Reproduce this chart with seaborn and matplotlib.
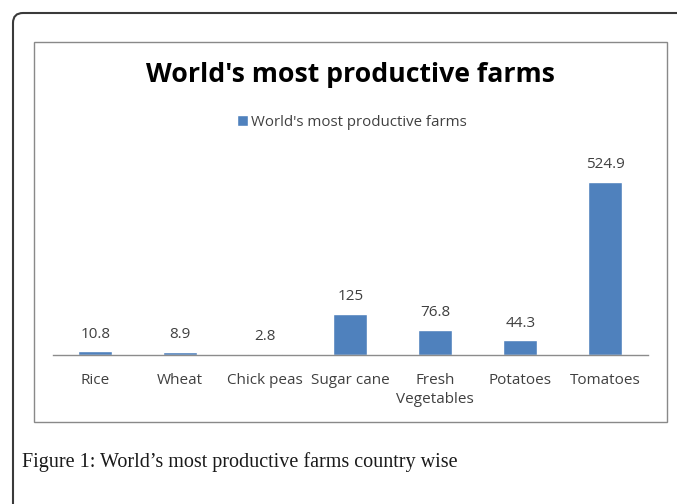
import seaborn as sns
import matplotlib.pyplot as plt
import pandas as pd
from matplotlib.patches import FancyBboxPatch, Rectangle

# DATA #
crops = ['Rice', 'Wheat', 'Chick peas', 'Sugar cane', 'Fresh\nVegetables', 'Potatoes', 'Tomatoes']
output = [10.8, 8.9, 2.8, 125, 76.8, 44.3, 524.9]
value_labels = ['10.8', '8.9', '2.8', '125', '76.8', '44.3', '524.9']
series_name = "World's most productive farms"

df = pd.DataFrame({'Crop': crops, 'Output': output, 'Series': series_name})

# PLOT #
sns.set_style('white')
plt.rcParams['font.family'] = ['Open Sans', 'DejaVu Sans']

fig = plt.figure(figsize=(6.77, 5.04), dpi=100)
ax = fig.add_axes([0.078, 0.2956, 0.879, 0.393])

sns.barplot(data=df, x='Crop', y='Output', hue='Series', palette=['#4F81BD'],
            width=0.4, saturation=1, ax=ax)
ax.set_xlim(-0.5, 6.5)
ax.set_ylim(0, 600)
ax.get_yaxis().set_visible(False)
ax.set_xlabel('')
sns.despine(ax=ax, top=True, right=True, left=True)
ax.spines['bottom'].set_color('#8c8c8c')
ax.spines['bottom'].set_linewidth(1)
ax.tick_params(axis='x', length=0, pad=13, labelsize=11, labelcolor='#404040')
for lbl in ax.get_xticklabels():
    lbl.set_linespacing(1.35)

ax.bar_label(ax.containers[0], labels=value_labels, padding=7, fontsize=11, color='#404040')

leg = ax.legend(loc='center', bbox_to_anchor=(0.503, 1.175), frameon=False, fontsize=10.8,
                handlelength=0.7, handleheight=0.7, handletextpad=0.25, labelcolor='#404040')

fig.text(0.517, 0.851, series_name, ha='center', va='center', fontsize=19.2,
         fontweight='bold', color='black')

# chart frame and outer page frame
fig.patches.append(Rectangle((0.34, 0.82), 6.33, 3.80, fill=False, edgecolor='#898989',
                             linewidth=1, transform=fig.dpi_scale_trans, figure=fig))
fig.patches.append(FancyBboxPatch((0.13, -0.5), 7.5, 5.41, boxstyle='round,pad=0,rounding_size=0.1',
                                  fill=False, edgecolor='#3a3a3a', linewidth=1.5,
                                  transform=fig.dpi_scale_trans, figure=fig))

fig.text(0.033, 0.083, "Figure 1: World\u2019s most productive farms country wise",
         family='Liberation Serif', fontsize=14.5, color='#1a1a1a', ha='left', va='center')

plt.savefig('out.png', dpi=100)
